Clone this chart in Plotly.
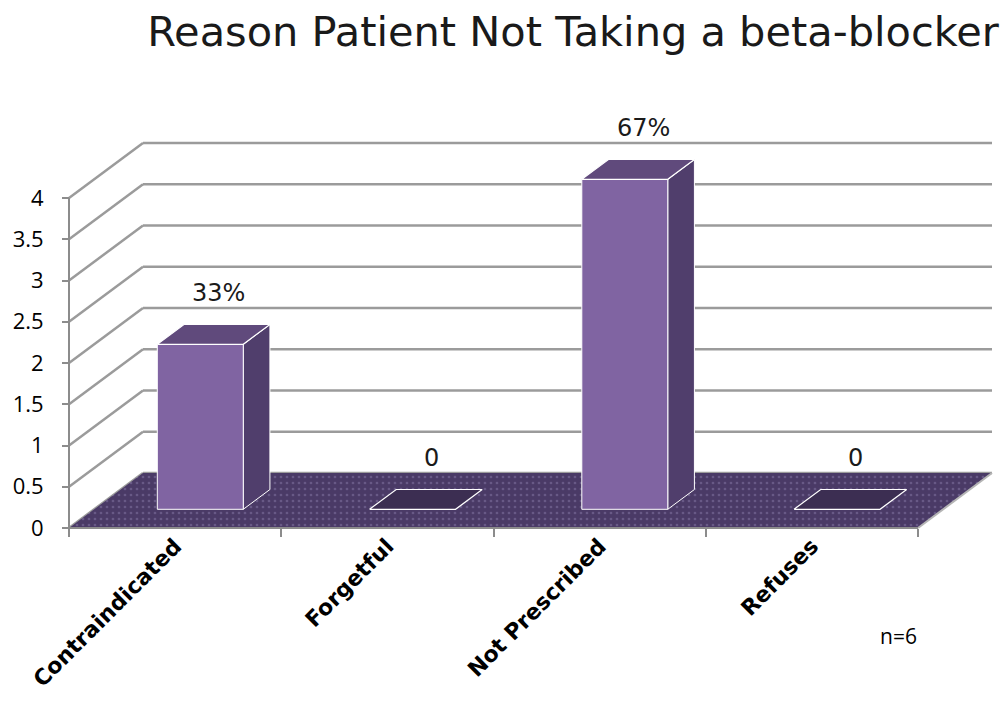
import plotly.graph_objects as go

# ---- data ----
categories = ["Contraindicated", "Forgetful", "Not Prescribed", "Refuses"]
counts = [2, 0, 4, 0]
value_labels = ["33%", "0", "67%", "0"]
y_ticks = [0, 0.5, 1, 1.5, 2, 2.5, 3, 3.5, 4]
title_text = "Reason Patient Not Taking a beta-blocker"
note_text = "n=6"

# ---- frame geometry (pixels) ----
W, H = 1008, 713
PL, PR, PT, PB = 56, 1004, 90, 540        # plot-area edges
ORIGIN_X, ORIGIN_Y = 69, 528              # pixel position of (0, 0) on the front plane
PX_PER_CAT = 212.25
PX_PER_UNIT = 82.5

# oblique depth of the floor / back wall, in axis units
DEPTH_DX = 74 / PX_PER_CAT
DEPTH_DY = 55 / PX_PER_UNIT
# bar placement inside the depth, as fractions of the full depth
BAR_FRONT, BAR_BACK = 0.34, 0.70
BAR_WIDTH = 0.405

x_range = [(PL - ORIGIN_X) / PX_PER_CAT, (PR - ORIGIN_X) / PX_PER_CAT]
y_range = [(ORIGIN_Y - PB) / PX_PER_UNIT, (ORIGIN_Y - PT) / PX_PER_UNIT]

n_cat = len(categories)
y_top = y_ticks[-1]

FLOOR = "#4a3a66"
FRONT = "#8064a2"
SIDE = "#503e6c"
TOP = "#604a7c"
TOP_FLAT = "#3c2e52"
GRID = "#9b9b9b"


def face(xs, ys, color, lw=1.0):
    """Closed filled polygon drawn in data coordinates."""
    return go.Scatter(
        x=list(xs) + [xs[0]], y=list(ys) + [ys[0]],
        mode="lines", fill="toself", fillcolor=color,
        line=dict(color="white", width=lw), hoverinfo="skip", showlegend=False,
    )


fig = go.Figure()

# floor of the 3-D box
fig.add_trace(go.Scatter(
    x=[0, n_cat, n_cat + DEPTH_DX, DEPTH_DX, 0],
    y=[0, 0, DEPTH_DY, DEPTH_DY, 0],
    mode="lines", fill="toself", fillcolor=FLOOR,
    fillpattern=dict(shape=".", fgcolor="#8577a6", bgcolor=FLOOR, size=6, solidity=0.16),
    line=dict(width=0), hoverinfo="skip", showlegend=False,
))
# light right-hand edge of the floor slab
fig.add_trace(go.Scatter(
    x=[n_cat, n_cat + DEPTH_DX], y=[0, DEPTH_DY],
    mode="lines", line=dict(color="#b5b5b5", width=2),
    hoverinfo="skip", showlegend=False,
))

centers = [i + 0.5 + BAR_FRONT * DEPTH_DX for i in range(n_cat)]
base0 = BAR_FRONT * DEPTH_DY
base1 = BAR_BACK * DEPTH_DY
bdx = (BAR_BACK - BAR_FRONT) * DEPTH_DX

for xc, v in zip(centers, counts):
    x0, x1 = xc - BAR_WIDTH / 2, xc + BAR_WIDTH / 2
    if v > 0:
        # right side face
        fig.add_trace(face([x1, x1, x1 + bdx, x1 + bdx],
                           [base0, base0 + v, base1 + v, base1], SIDE))
        # front face
        fig.add_trace(face([x0, x1, x1, x0],
                           [base0, base0, base0 + v, base0 + v], FRONT))
    # top face (lies flat on the floor for empty categories)
    fig.add_trace(face([x0, x1, x1 + bdx, x0 + bdx],
                       [base0 + v, base0 + v, base1 + v, base1 + v],
                       TOP if v > 0 else TOP_FLAT, lw=1.2))

# value labels above each bar
for xc, v, lab in zip(centers, counts, value_labels):
    fig.add_annotation(
        x=xc + 0.7 * bdx, y=v + base1, text=lab, showarrow=False,
        xref="x", yref="y", yanchor="bottom", yshift=16,
        font=dict(family="DejaVu Sans", size=24, color="#1a1a1a"),
    )

# gridlines on the left wall and back wall
shapes = []
for t in y_ticks:
    shapes.append(dict(type="line", xref="x", yref="y", layer="below",
                       x0=0, y0=t, x1=DEPTH_DX, y1=t + DEPTH_DY,
                       line=dict(color=GRID, width=2.5)))
    shapes.append(dict(type="line", xref="x", yref="y", layer="below",
                       x0=DEPTH_DX, y0=t + DEPTH_DY, x1=n_cat + DEPTH_DX, y1=t + DEPTH_DY,
                       line=dict(color=GRID, width=2.5)))
# front axis lines
shapes.append(dict(type="line", xref="x", yref="y", layer="above",
                   x0=0, y0=0, x1=0, y1=y_top, line=dict(color="#8c8c8c", width=2)))
shapes.append(dict(type="line", xref="x", yref="y", layer="above",
                   x0=0, y0=0, x1=n_cat, y1=0, line=dict(color="#8c8c8c", width=2)))

fig.update_layout(
    width=W, height=H,
    margin=dict(l=PL, r=W - PR, t=PT, b=H - PB, pad=0),
    paper_bgcolor="white", plot_bgcolor="white",
    shapes=shapes,
    title=dict(text=title_text, x=573 / W, xanchor="center",
               y=1 - 31 / H, yanchor="middle", yref="container",
               font=dict(family="DejaVu Sans", size=41.5, color="#1a1a1a")),
    xaxis=dict(
        range=x_range, showgrid=False, zeroline=False, showline=False,
        anchor="free", position=(PB - ORIGIN_Y) / (PB - PT),
        tickmode="array", tickvals=[i + 0.5 for i in range(n_cat)], ticktext=categories,
        ticks="", tickangle=-45,
        tickfont=dict(family="DejaVu Sans", size=22, color="black", weight="bold"),
        minor=dict(tickmode="array", tickvals=list(range(n_cat + 1)),
                   ticks="outside", ticklen=8, tickwidth=2, tickcolor="#8c8c8c"),
    ),
    yaxis=dict(
        range=y_range, showgrid=False, zeroline=False, showline=False,
        anchor="free", position=(ORIGIN_X - PL) / (PR - PL),
        tickmode="array", tickvals=y_ticks,
        ticks="outside", ticklen=7, tickwidth=2, tickcolor="#8c8c8c",
        ticklabelstandoff=14,
        tickfont=dict(family="Open Sans", size=22, color="black"),
    ),
)

fig.add_annotation(
    x=(898 - PL) / (PR - PL), y=(PB - 636) / (PB - PT), xref="paper", yref="paper",
    xanchor="center", yanchor="middle",
    text=note_text, showarrow=False,
    font=dict(family="Open Sans", size=21, color="black"),
)

fig.write_html("out.html")
